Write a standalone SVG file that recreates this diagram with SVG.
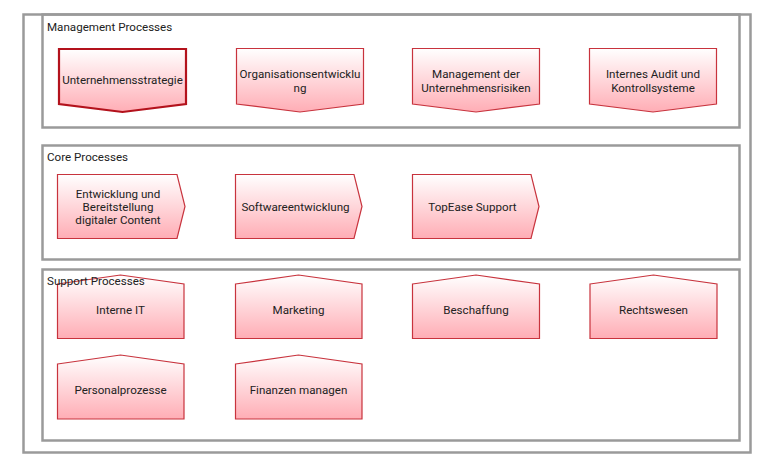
<svg xmlns="http://www.w3.org/2000/svg" width="768" height="467" viewBox="0 0 768 467">
<defs>
<linearGradient id="g" x1="0" y1="0" x2="0" y2="1">
<stop offset="0" stop-color="#ffffff"/>
<stop offset="1" stop-color="#ffadb5"/>
</linearGradient>
<style>
.frame{fill:#fff;stroke:#9a9a9a;stroke-width:2.5}
.box{fill:none;stroke:#9a9a9a;stroke-width:2.5}
.n{fill:url(#g);stroke:#c8333d;stroke-width:1.2}
.sel{fill:url(#g);stroke:#b3121c;stroke-width:2.2}
text{font-family:Roboto,"Liberation Sans",sans-serif;font-size:11.6px;fill:#222}
.t{text-anchor:middle}
</style>
</defs>
<rect width="768" height="467" fill="#fff"/>
<g id="containers">
<rect id="frame" class="frame" x="23.5" y="14.5" width="727" height="438"/>
<rect id="management" class="box" x="42.5" y="14.5" width="697" height="113"/>
<rect id="core" class="box" x="42.5" y="145.5" width="697" height="114"/>
<rect id="support" class="box" x="42.5" y="269.5" width="697" height="171"/>
</g>
<g id="connectors"/>
<g id="n-unternehmensstrategie">
<path class="sel" d="M59,49 H186 V104 L122.5,112 L59,104 Z"/>
<text class="t" x="122.5" y="84">Unternehmensstrategie</text>
</g>
<g id="n-organisation">
<path class="n" d="M236.5,48.5 H363.5 V104 L300,112 L236.5,104 Z"/>
<text class="t" x="300" y="78">Organisationsentwicklu</text>
<text class="t" x="300" y="92">ng</text>
</g>
<g id="n-risiken">
<path class="n" d="M412.5,48.5 H539.5 V104 L476,112 L412.5,104 Z"/>
<text class="t" x="476" y="78">Management der</text>
<text class="t" x="476" y="92">Unternehmensrisiken</text>
</g>
<g id="n-audit">
<path class="n" d="M589.5,48.5 H716.5 V104 L653,112 L589.5,104 Z"/>
<text class="t" x="653" y="78">Internes Audit und</text>
<text class="t" x="653" y="92">Kontrollsysteme</text>
</g>
<g id="n-content">
<path class="n" d="M57.5,174.5 H177 L185,206.5 L177,238.5 H57.5 Z"/>
<text class="t" x="118" y="198">Entwicklung und</text>
<text class="t" x="118" y="211">Bereitstellung</text>
<text class="t" x="118" y="224">digitaler Content</text>
</g>
<g id="n-software">
<path class="n" d="M235.5,174.5 H354 L362,206.5 L354,238.5 H235.5 Z"/>
<text class="t" x="295.5" y="211">Softwareentwicklung</text>
</g>
<g id="n-topease">
<path class="n" d="M412.5,174.5 H531 L539,206.5 L531,238.5 H412.5 Z"/>
<text class="t" x="472.5" y="211">TopEase Support</text>
</g>
<g id="n-it">
<path class="n" d="M57.5,284 L120.5,275 L184,284 V338.5 H57.5 Z"/>
<text class="t" x="120.5" y="314">Interne IT</text>
</g>
<g id="n-marketing">
<path class="n" d="M235.5,284 L298.5,275 L362,284 V338.5 H235.5 Z"/>
<text class="t" x="298.5" y="314">Marketing</text>
</g>
<g id="n-beschaffung">
<path class="n" d="M412.5,284 L476,275 L539.5,284 V338.5 H412.5 Z"/>
<text class="t" x="476" y="314">Beschaffung</text>
</g>
<g id="n-recht">
<path class="n" d="M590,284 L653.5,275 L717,284 V338.5 H590 Z"/>
<text class="t" x="653.5" y="314">Rechtswesen</text>
</g>
<g id="n-personal">
<path class="n" d="M57.5,364 L120.5,355 L184,364 V419 H57.5 Z"/>
<text class="t" x="120.5" y="394">Personalprozesse</text>
</g>
<g id="n-finanzen">
<path class="n" d="M235.5,364 L298.5,355 L362,364 V419 H235.5 Z"/>
<text class="t" x="298.5" y="394">Finanzen managen</text>
</g>
<g id="labels">
<text x="47" y="31">Management Processes</text>
<text x="47" y="161">Core Processes</text>
<text x="47" y="285">Support Processes</text>
</g>
</svg>
